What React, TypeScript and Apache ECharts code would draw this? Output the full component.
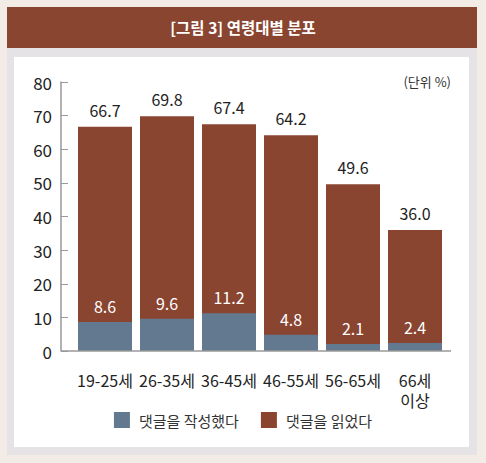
import React, { useEffect, useRef } from "react";
import * as echarts from "echarts";

const categories = ["19-25세", "26-35세", "36-45세", "46-55세", "56-65세", "66세\n이상"];
const readValues = [66.7, 69.8, 67.4, 64.2, 49.6, 36.0];
const writeValues = [8.6, 9.6, 11.2, 4.8, 2.1, 2.4];
const seriesNames = ["댓글을 작성했다", "댓글을 읽었다"];
const yTicks = { min: 0, max: 80, interval: 10 };

const BROWN = "#8a4531";
const BLUE = "#62798f";
const FONT = "'Noto Sans CJK KR', 'Noto Sans', sans-serif";

export default function App() {
  const ref = useRef<HTMLDivElement>(null);
  useEffect(() => {
    if (!ref.current) return;
    const chart = echarts.init(ref.current, null, { renderer: "svg" });
    chart.setOption({
      animation: false,
      backgroundColor: "#f3ebe5",
      textStyle: { fontFamily: FONT },
      graphic: [
        { type: "rect", shape: { x: 7, y: 48, width: 470, height: 407 }, style: { fill: "#e5e3e6" }, z: -10 },
        { type: "rect", shape: { x: 14, y: 57, width: 455, height: 390 }, style: { fill: "#ffffff" }, z: -9 },
        { type: "rect", shape: { x: 7, y: 7, width: 470, height: 41 }, style: { fill: BROWN }, z: -9 },
        {
          type: "text",
          x: 243,
          y: 27,
          style: {
            text: "[그림 3] 연령대별 분포",
            fill: "#ffffff",
            font: "bold 15.5px " + FONT,
            textAlign: "center",
            textVerticalAlign: "middle",
          },
        },
        {
          type: "text",
          x: 451,
          y: 81,
          style: {
            text: "(단위 %)",
            fill: "#333333",
            font: "13px " + FONT,
            textAlign: "right",
            textVerticalAlign: "middle",
          },
        },
        { type: "line", shape: { x1: 61, y1: 351, x2: 451, y2: 351 }, style: { stroke: "#999999", lineWidth: 1.5 }, z: 10 },
      ],
      legend: {
        bottom: 30,
        left: "center",
        itemWidth: 16,
        itemHeight: 16,
        itemGap: 22,
        icon: "rect",
        textStyle: { fontSize: 15, color: "#333333", fontFamily: FONT, padding: [0, 0, 0, 4] },
        data: seriesNames,
      },
      grid: { left: 74, right: 40, top: 82, bottom: 112, containLabel: false },
      xAxis: {
        type: "category",
        data: categories,
        axisLine: { show: false },
        axisTick: { show: false },
        axisLabel: {
          margin: 19,
          fontSize: 16,
          lineHeight: 20,
          color: "#222222",
          fontFamily: FONT,
          interval: 0,
        },
      },
      yAxis: {
        type: "value",
        min: yTicks.min,
        max: yTicks.max,
        interval: yTicks.interval,
        offset: 13,
        axisLine: { show: true, lineStyle: { color: "#999999", width: 1.5 } },
        axisTick: { show: true, inside: true, length: 7, lineStyle: { color: "#999999" } },
        splitLine: { show: false },
        axisLabel: { margin: 9, fontSize: 17, color: "#222222", fontFamily: FONT },
      },
      series: [
        {
          name: seriesNames[1],
          type: "bar",
          data: readValues,
          barWidth: 54,
          barGap: "-100%",
          itemStyle: { color: BROWN },
          label: {
            show: true,
            position: "top",
            distance: 9,
            fontSize: 16,
            color: "#222222",
            fontFamily: FONT,
            formatter: (p: any) => p.value.toFixed(1),
          },
          z: 2,
        },
        {
          name: seriesNames[0],
          type: "bar",
          data: writeValues,
          barWidth: 54,
          barGap: "-100%",
          itemStyle: { color: BLUE },
          label: {
            show: true,
            position: "top",
            distance: 8,
            fontSize: 16,
            color: "#ffffff",
            fontFamily: FONT,
            formatter: (p: any) => p.value.toFixed(1),
          },
          z: 3,
        },
      ],
    });
    return () => chart.dispose();
  }, []);
  return (
    <div
      ref={ref}
      style={{ position: "fixed", left: 0, top: 0, width: 486, height: 463 }}
    />
  );
}
